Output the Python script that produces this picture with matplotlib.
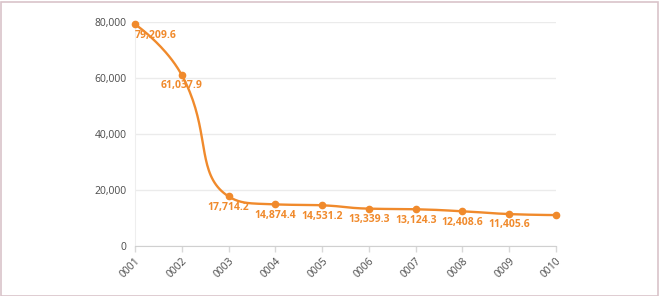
import numpy as np
import matplotlib
matplotlib.use('Agg')
import matplotlib.pyplot as plt
from matplotlib.patches import Rectangle
from matplotlib.ticker import FuncFormatter

plt.rcParams['font.family'] = ['Open Sans', 'DejaVu Sans']

categories = ['0001', '0002', '0003', '0004', '0005', '0006', '0007', '0008', '0009', '0010']
values = [79209.6, 61037.9, 17714.2, 14874.4, 14531.2, 13339.3, 13124.3, 12408.6, 11405.6, 11050.0]
labeled = [True, True, True, True, True, True, True, True, True, False]

line_color = '#f08a2c'
W, H = 659, 296
ax_left, ax_right, ax_top, ax_bottom = 135, 556, 22, 246
ymax = 80000


def smooth_path(xs, ys, smooth=0.5):
    # echarts-style bezier smoothing, done in pixel space
    sx = (ax_right - ax_left) / (len(xs) - 1)
    sy = (ax_bottom - ax_top) / ymax
    px = np.asarray(xs, float) * sx
    py = np.asarray(ys, float) * sy
    n = len(px)
    out_x, out_y = [px[0]], [py[0]]
    cp0 = (px[0], py[0])
    t = np.linspace(0, 1, 40)[1:]
    for i in range(1, n):
        x, y = px[i], py[i]
        prevx, prevy = px[i - 1], py[i - 1]
        if i == n - 1:
            cp1 = (x, y)
            nxt = (x, y)
        else:
            nx, ny = px[i + 1], py[i + 1]
            vx, vy = nx - prevx, ny - prevy
            l0 = np.hypot(x - prevx, y - prevy)
            l1 = np.hypot(nx - x, ny - y)
            r = l1 / (l0 + l1)
            ncx = x + vx * smooth * r
            ncy = y + vy * smooth * r
            ncx = max(min(ncx, max(nx, x)), min(nx, x))
            ncy = max(min(ncy, max(ny, y)), min(ny, y))
            vx, vy = ncx - x, ncy - y
            c1x = x - vx * l0 / l1
            c1y = y - vy * l0 / l1
            c1x = max(min(c1x, max(prevx, x)), min(prevx, x))
            c1y = max(min(c1y, max(prevy, y)), min(prevy, y))
            vx, vy = x - c1x, y - c1y
            ncx = x + vx * l1 / l0
            ncy = y + vy * l1 / l0
            cp1 = (c1x, c1y)
            nxt = (ncx, ncy)
        p0 = (prevx, prevy)
        bx = ((1 - t) ** 3 * p0[0] + 3 * (1 - t) ** 2 * t * cp0[0]
              + 3 * (1 - t) * t ** 2 * cp1[0] + t ** 3 * x)
        by = ((1 - t) ** 3 * p0[1] + 3 * (1 - t) ** 2 * t * cp0[1]
              + 3 * (1 - t) * t ** 2 * cp1[1] + t ** 3 * y)
        out_x.extend(bx)
        out_y.extend(by)
        cp0 = nxt
    return np.array(out_x) / sx, np.array(out_y) / sy


fig = plt.figure(figsize=(W / 100, H / 100), dpi=100)
ax = fig.add_axes([ax_left / W, 1 - ax_bottom / H,
                   (ax_right - ax_left) / W, (ax_bottom - ax_top) / H])

xs = np.arange(len(categories))
cx, cy = smooth_path(xs, values)
ax.plot(cx, cy, color=line_color, lw=1.7, solid_capstyle='round', zorder=3, clip_on=False)
ax.plot(xs, values, 'o', color=line_color, ms=4.5, zorder=4, clip_on=False)

for i, (v, show) in enumerate(zip(values, labeled)):
    if not show:
        continue
    ax.annotate(f'{v:,.1f}', (xs[i], v), xytext=(0, -7.8), textcoords='offset points',
                ha='left' if i == 0 else 'center', va='center',
                fontsize=7.5, fontweight='bold', color=line_color, zorder=5)

ax.set_xlim(0, len(categories) - 1)
ax.set_ylim(0, ymax)
ax.set_yticks(np.arange(0, ymax + 1, 20000))
ax.yaxis.set_major_formatter(FuncFormatter(lambda v, p: f'{int(v):,}'))
ax.set_xticks(xs)
ax.set_xticklabels(categories, rotation=45, ha='right', va='top', rotation_mode='anchor')
ax.grid(axis='y', color='#ebebeb', lw=1)
ax.set_axisbelow(True)
ax.tick_params(axis='y', length=0, pad=6, labelsize=7.5, labelcolor='#4a4a4a')
ax.tick_params(axis='x', length=4, width=1, color='#d8d8d8', pad=3,
               labelsize=7.5, labelcolor='#4a4a4a')
for s in ['top', 'right']:
    ax.spines[s].set_visible(False)
ax.spines['left'].set_color('#eeeeee')
ax.spines['bottom'].set_color('#d0d0d0')

fig.patches.append(Rectangle((0.5 / W, 0.5 / H), 1 - 2 / W, 1 - 2 / H,
                             transform=fig.transFigure, fill=False,
                             edgecolor='#d9c3ca', lw=1.2))

fig.savefig('out.png', dpi=100)
